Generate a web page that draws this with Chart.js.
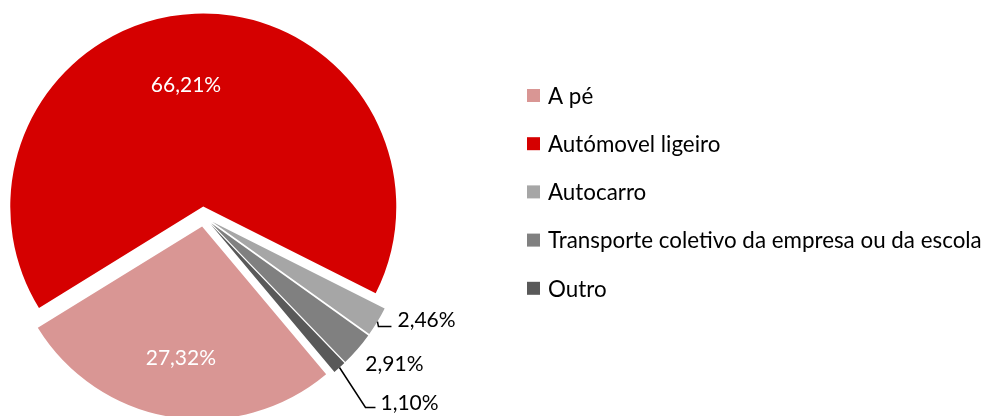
<!DOCTYPE html>
<html>
<head>
<meta charset="utf-8">
<script src="https://cdn.jsdelivr.net/npm/chart.js@4.4.1/dist/chart.umd.min.js"></script>
<style>
  html, body { margin: 0; padding: 0; background: #fff; }
  #wrap { width: 985px; height: 416px; }
</style>
</head>
<body>
<div id="wrap"><canvas id="chart" width="985" height="416"></canvas></div>
<script>
// data
const categories = ['A pé', 'Autómovel ligeiro', 'Autocarro', 'Transporte coletivo da empresa ou da escola', 'Outro'];
const shares = [27.32, 66.21, 2.46, 2.91, 1.10];
const sliceColors = ['#D99694', '#D50000', '#A6A6A6', '#808080', '#595959'];

const FONT = 'Lato, "Open Sans", sans-serif';
const EXPLODE = 10; // px every slice is pulled out from the centre

// where each percentage goes (inside the slice, or outside with a leader line)
const labelPlacement = [
  { inside: true, frac: 0.69, shift: [0, 0] },
  { inside: true, frac: 0.63, shift: [-12, 0] },
  { text: [20, -1], leader: [[1, 5], [14, 5]] },
  { text: [8, 15] },
  { text: [41, 36], leader: [[26, 40], [36, 40]] }
];

const fmt = v => v.toFixed(2).replace('.', ',') + '%';

// chart.js' own offset also grows the radius of wide slices, so pull every
// slice out by a plain translation instead and let the arc draw itself
const explodedPie = {
  id: 'explodedPie',
  beforeDatasetDraw(chart, args) {
    const ctx = chart.ctx;
    args.meta.data.forEach(arc => {
      const mid = (arc.startAngle + arc.endAngle) / 2;
      ctx.save();
      ctx.translate(Math.cos(mid) * EXPLODE, Math.sin(mid) * EXPLODE);
      arc.draw(ctx);
      ctx.restore();
    });
    return false;
  }
};

const sliceLabels = {
  id: 'sliceLabels',
  afterDatasetsDraw(chart) {
    const ctx = chart.ctx;
    const meta = chart.getDatasetMeta(0);
    const values = chart.data.datasets[0].data;
    ctx.save();
    ctx.font = '21px ' + FONT;
    ctx.textBaseline = 'middle';
    meta.data.forEach((arc, i) => {
      const p = labelPlacement[i];
      const mid = (arc.startAngle + arc.endAngle) / 2;
      const dx = Math.cos(mid), dy = Math.sin(mid);
      const txt = fmt(values[i]);
      if (p.inside) {
        const d = EXPLODE + p.frac * arc.outerRadius;
        ctx.fillStyle = '#ffffff';
        ctx.textAlign = 'center';
        ctx.fillText(txt, arc.x + dx * d + p.shift[0], arc.y + dy * d + p.shift[1]);
      } else {
        const d = EXPLODE + arc.outerRadius;
        const px = arc.x + dx * d, py = arc.y + dy * d;
        if (p.leader) {
          ctx.strokeStyle = '#000000';
          ctx.lineWidth = 1.5;
          ctx.beginPath();
          ctx.moveTo(px, py);
          p.leader.forEach(pt => ctx.lineTo(px + pt[0], py + pt[1]));
          ctx.stroke();
        }
        ctx.fillStyle = '#000000';
        ctx.textAlign = 'left';
        ctx.fillText(txt, px + p.text[0], py + p.text[1]);
      }
    });
    ctx.restore();
  }
};

const sideLegend = {
  id: 'sideLegend',
  afterDraw(chart) {
    const ctx = chart.ctx;
    const labels = chart.data.labels;
    const colors = chart.data.datasets[0].backgroundColor;
    ctx.save();
    // fit the longest entry into the space on the right
    ctx.font = '20px ' + FONT;
    const longest = Math.max(...labels.map(l => ctx.measureText(l).width));
    const size = 20 * 434 / longest;
    ctx.font = size.toFixed(2) + 'px ' + FONT;
    ctx.textBaseline = 'middle';
    ctx.textAlign = 'left';
    const x0 = 527, y0 = 95.5, step = 48.2, box = 13;
    labels.forEach((l, i) => {
      const y = y0 + i * step;
      ctx.fillStyle = colors[i];
      ctx.fillRect(x0, y - box / 2, box, box);
      ctx.fillStyle = '#000000';
      ctx.fillText(l, x0 + 21, y + 1);
    });
    ctx.restore();
  }
};

new Chart(document.getElementById('chart').getContext('2d'), {
  type: 'pie',
  data: {
    labels: categories,
    datasets: [{
      data: shares,
      backgroundColor: sliceColors,
      borderWidth: 0,
      offset: 0,
      hoverOffset: 0
    }]
  },
  options: {
    responsive: false,
    animation: false,
    rotation: 140,
    radius: 193,
    layout: { padding: { left: 0, right: 577.6, top: 17.2, bottom: 0 } },
    plugins: {
      legend: { display: false },
      tooltip: { enabled: false }
    }
  },
  plugins: [explodedPie, sliceLabels, sideLegend]
});
</script>
</body>
</html>
